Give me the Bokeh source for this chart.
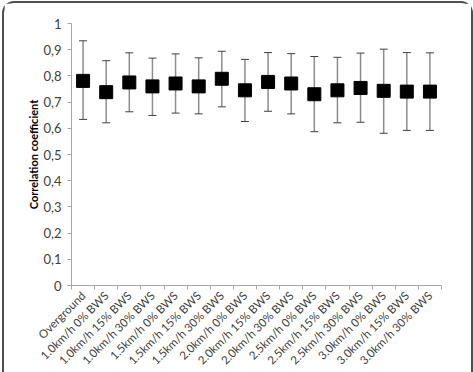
import math
from bokeh.plotting import figure
from bokeh.models import ColumnDataSource, Whisker, TeeHead, FixedTicker, Range1d
from bokeh.embed import file_html
from bokeh.resources import INLINE

# Walking conditions and the correlation coefficient (mean with upper/lower error limits)
conditions = [
    "Overground",
    "1.0km/h 0% BWS", "1.0km/h 15% BWS", "1.0km/h 30% BWS",
    "1.5km/h 0% BWS", "1.5km/h 15% BWS", "1.5km/h 30% BWS",
    "2.0km/h 0% BWS", "2.0km/h 15% BWS", "2.0km/h 30% BWS",
    "2.5km/h 0% BWS", "2.5km/h 15% BWS", "2.5km/h 30% BWS",
    "3.0km/h 0% BWS", "3.0km/h 15% BWS", "3.0km/h 30% BWS",
]
mean_r = [0.781, 0.738, 0.775, 0.760, 0.771, 0.760, 0.789, 0.745,
          0.777, 0.771, 0.730, 0.745, 0.754, 0.743, 0.740, 0.740]
upper_r = [0.934, 0.858, 0.888, 0.868, 0.884, 0.869, 0.894, 0.863,
           0.889, 0.885, 0.874, 0.871, 0.887, 0.902, 0.889, 0.888]
lower_r = [0.634, 0.621, 0.663, 0.649, 0.658, 0.655, 0.682, 0.626,
           0.665, 0.655, 0.587, 0.621, 0.623, 0.581, 0.592, 0.592]
y_ticks = [0, 0.1, 0.2, 0.3, 0.4, 0.5, 0.6, 0.7, 0.8, 0.9, 1.0]
y_tick_labels = ["0", "0,1", "0,2", "0,3", "0,4", "0,5", "0,6", "0,7", "0,8", "0,9", "1"]

n = len(conditions)
centers = [i + 0.5 for i in range(n)]

src = ColumnDataSource(dict(x=centers, mean=mean_r, upper=upper_r, lower=lower_r))

FONT = "Lato"
TXT = "#404040"

p = figure(width=471, height=371, output_backend="svg", toolbar_location=None,
           x_range=Range1d(0, n), y_range=Range1d(0, 1),
           min_border_left=67, min_border_right=34, min_border_top=20, min_border_bottom=84)
# rounded chart border; the bottom edge runs off below the visible area
p.styles = {"border": "2px solid #505050", "border-bottom": "none",
            "border-radius": "12px 12px 0 0", "margin": "1px 0 0 2px"}
p.outline_line_color = None
p.grid.visible = False

# x axis: labels at category centres, small ticks at category boundaries
p.xaxis.ticker = FixedTicker(ticks=centers, minor_ticks=list(range(n + 1)))
p.xaxis.major_label_overrides = {c: lab for c, lab in zip(centers, conditions)}
p.xaxis.major_label_orientation = math.pi / 4
p.xaxis.major_tick_out = 0
p.xaxis.major_tick_in = 0
p.xaxis.minor_tick_out = 4
p.xaxis.minor_tick_in = 0
p.xaxis.minor_tick_line_color = "#a6a6a6"

p.yaxis.ticker = FixedTicker(ticks=y_ticks, minor_ticks=[])
p.yaxis.major_label_overrides = {t: lab for t, lab in zip(y_ticks, y_tick_labels)}
p.yaxis.major_tick_out = 4
p.yaxis.major_tick_in = 0
p.yaxis.axis_label = "Correlation coefficient"
p.yaxis.axis_label_text_font_style = "bold"
p.yaxis.axis_label_text_font_size = "11px"
p.yaxis.axis_label_text_color = "#000000"
p.yaxis.axis_label_text_font = FONT
p.yaxis.axis_label_standoff = 0

for ax in (p.xaxis, p.yaxis):
    ax.axis_line_color = "#a6a6a6"
    ax.major_tick_line_color = "#a6a6a6"
    ax.major_label_text_font = FONT
    ax.major_label_text_color = TXT
p.xaxis.major_label_text_font_size = "11.5px"
p.yaxis.major_label_text_font_size = "13px"
p.yaxis.major_label_standoff = 6
p.xaxis.major_label_standoff = 4

whisk = Whisker(source=src, base="x", upper="upper", lower="lower",
                line_color="#8c8c8c", line_width=1.5,
                upper_head=TeeHead(size=8, line_color="#404040", line_width=1),
                lower_head=TeeHead(size=8, line_color="#404040", line_width=1))
p.add_layout(whisk)

p.scatter("x", "mean", source=src, marker="square", size=13,
          fill_color="#000000", line_color="#000000")

open("out.html", "w").write(file_html(p, INLINE))
